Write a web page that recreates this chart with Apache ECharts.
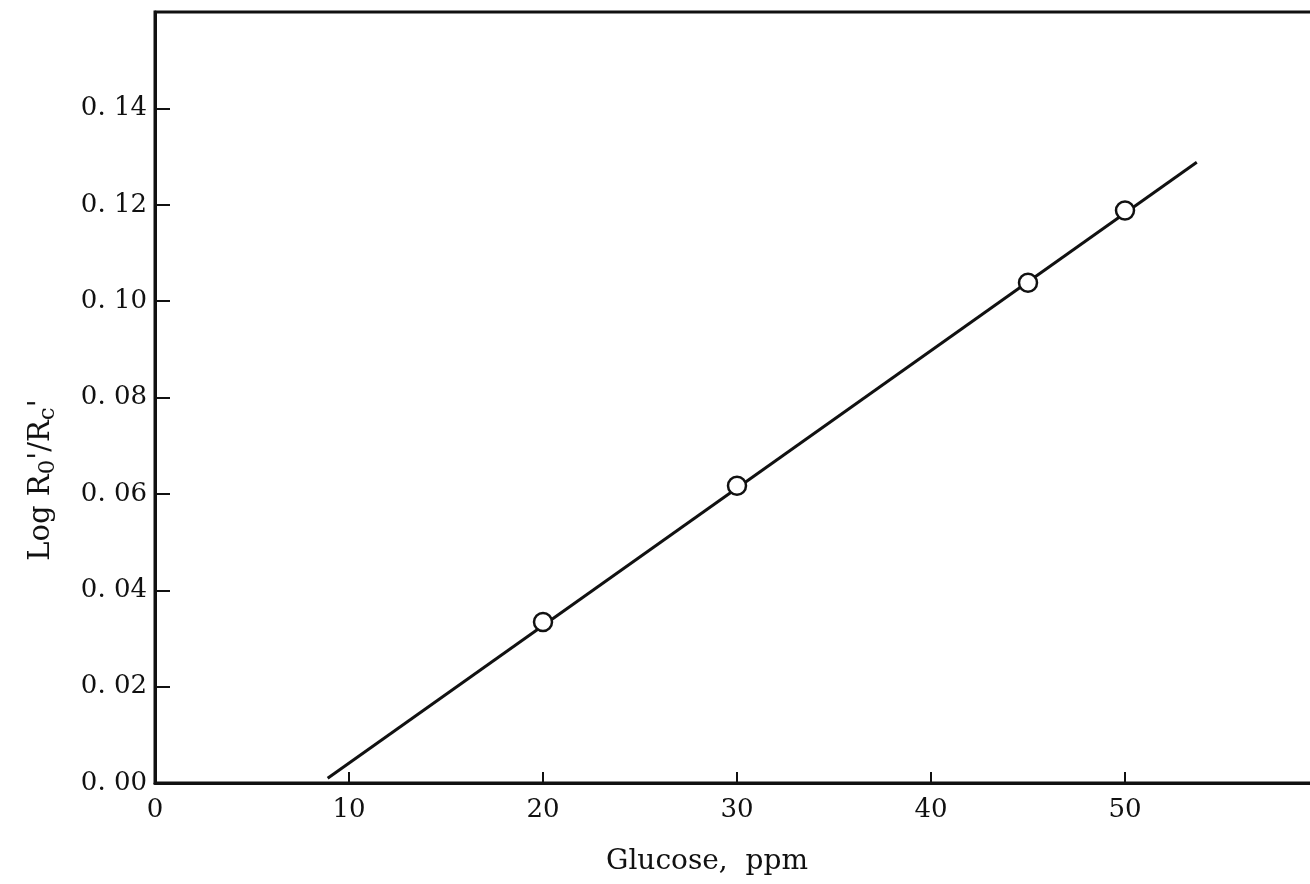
<!DOCTYPE html>
<html>
<head>
<meta charset="utf-8">
<title>Glucose calibration</title>
<script src="https://cdn.jsdelivr.net/npm/echarts@6/dist/echarts.min.js"></script>
<style>
  html, body { margin: 0; padding: 0; background: #ffffff; }
  #chart { width: 1310px; height: 884px; }
</style>
</head>
<body>
<div id="chart"></div>
<script>
// Measured standards: glucose concentration vs. log reflectance ratio
const glucosePpm = [20, 30, 45, 50];
const logRatio = [0.0334, 0.0617, 0.1038, 0.1188];

// End points of the fitted calibration line
const fitLineX = [8.9, 53.7];
const fitLineY = [0.001, 0.1288];

// Tick labels
const xTickLabels = ['0', '10', '20', '30', '40', '50'];
const yTickLabels = ['0. 00', '0. 02', '0. 04', '0. 06', '0. 08', '0. 10', '0. 12', '0. 14'];

const FONT = '"DejaVu Serif", "Liberation Serif", serif';
const INK = '#111111';

const chart = echarts.init(document.getElementById('chart'), null, { renderer: 'canvas' });

chart.setOption({
  animation: false,
  backgroundColor: '#ffffff',
  grid: {
    left: 155,
    top: 12,
    width: 1164,
    height: 771,
    outerBoundsMode: 'none',
    containLabel: false,
    show: true,
    borderColor: INK,
    borderWidth: 3,
    backgroundColor: 'transparent'
  },
  xAxis: {
    type: 'value',
    min: 0,
    max: 60,
    interval: 10,
    name: 'Glucose,  ppm',
    nameLocation: 'middle',
    nameGap: 65,
    nameTextStyle: {
      fontFamily: FONT,
      fontSize: 28,
      color: INK,
      padding: [0, 60, 0, 0]
    },
    axisLine: { lineStyle: { color: INK, width: 3 } },
    axisTick: { inside: true, length: 11, lineStyle: { color: INK, width: 2 } },
    axisLabel: {
      margin: 14,
      fontFamily: FONT,
      fontSize: 26,
      color: INK,
      formatter: function (v) {
        const label = xTickLabels[Math.round(v / 10)];
        return label === undefined ? '' : label;
      }
    },
    splitLine: { show: false }
  },
  yAxis: {
    type: 'value',
    min: 0,
    max: 0.16,
    interval: 0.02,
    name: 'Log R{s|0}\'/R{s|c}\'',
    nameLocation: 'middle',
    nameGap: 114,
    nameTextStyle: {
      fontFamily: FONT,
      fontSize: 29,
      color: INK,
      lineHeight: 38,
      verticalAlign: 'middle',
      padding: [0, 165, 0, 0],
      rich: {
        s: {
          fontFamily: FONT,
          fontSize: 23,
          color: INK,
          lineHeight: 20,
          verticalAlign: 'bottom'
        }
      }
    },
    axisLine: { lineStyle: { color: INK, width: 3 } },
    axisTick: { inside: true, length: 15, lineStyle: { color: INK, width: 2 } },
    axisLabel: {
      margin: 8,
      fontFamily: FONT,
      fontSize: 26,
      color: INK,
      formatter: function (v) {
        const label = yTickLabels[Math.round(v / 0.02)];
        return label === undefined ? '' : label;
      }
    },
    splitLine: { show: false }
  },
  series: [
    {
      name: 'Calibration line',
      type: 'line',
      data: fitLineX.map((x, i) => [x, fitLineY[i]]),
      showSymbol: false,
      lineStyle: { color: INK, width: 3 },
      z: 2
    },
    {
      name: 'Standards',
      type: 'scatter',
      data: glucosePpm.map((x, i) => [x, logRatio[i]]),
      symbol: 'circle',
      symbolSize: 18,
      itemStyle: { color: '#ffffff', borderColor: INK, borderWidth: 2.5, opacity: 1 },
      z: 3
    }
  ]
});
</script>
</body>
</html>
